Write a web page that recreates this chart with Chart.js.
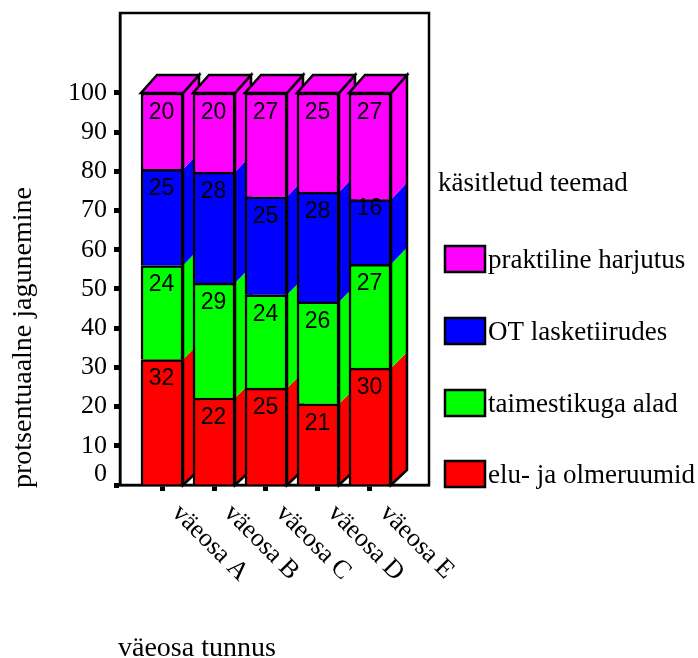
<!DOCTYPE html>
<html><head><meta charset="utf-8">
<style>html,body{margin:0;padding:0;background:#fff}#w{width:698px;height:658px;position:relative}</style>
<script src="https://cdn.jsdelivr.net/npm/chart.js@4"></script></head>
<body><div id="w"><canvas id="c" width="698" height="658"></canvas></div>
<script>
const categories = ['väeosa A','väeosa B','väeosa C','väeosa D','väeosa E'];
const eluRuumid   = [32, 22.2, 24.7, 20.7, 29.8];
const taimestik   = [24, 29.3, 23.8, 26, 26.5];
const lasketiirud = [24.5, 28.3, 25, 28, 16.49];
const praktiline  = [19.5, 20.2, 26.5, 25.3, 27.21];
const seriesNames = ['elu- ja olmeruumid','taimestikuga alad','OT lasketiirudes','praktiline harjutus'];
const seriesColors = ['#ff0000','#00ff00','#0000ff','#ff00ff'];
const yTicks = [0,10,20,30,40,50,60,70,80,90,100];
const yTitle = 'protsentuaalne jagunemine';
const xTitle = 'väeosa tunnus';
const legendTitle = 'käsitletud teemad';

const SERIF = '"Liberation Serif"', SANS = '"Liberation Sans"';
const allSeries = [eluRuumid, taimestik, lasketiirud, praktiline];
const DX = 16;
const LW = 2.5;
const dyAt = v => 15 + 3*v/100;

const path = (ctx, pts) => {
  ctx.beginPath(); pts.forEach((p,i)=> i?ctx.lineTo(p[0],p[1]):ctx.moveTo(p[0],p[1])); ctx.closePath();
};

const deco = {
  id: 'deco',
  beforeDatasetsDraw(chart) {
    const {ctx, chartArea:a, scales:{x,y}} = chart;
    ctx.save();
    ctx.strokeStyle = '#000'; ctx.lineWidth = 2.5; ctx.lineJoin='miter';
    ctx.strokeRect(a.left, a.top, a.right-a.left, a.bottom-a.top);
    ctx.lineWidth = LW;
    const half = chart.getDatasetMeta(0).data[0].width/2;
    categories.forEach((_, i) => {
      const l = x.getPixelForValue(i)-half, r = x.getPixelForValue(i)+half;
      let base = 0;
      allSeries.forEach((s, k) => {
        const t = base + s[i];
        const y0 = y.getPixelForValue(base), y1 = y.getPixelForValue(t);
        path(ctx, [[r,y0],[r+DX,y0-dyAt(base)],[r+DX,y1-dyAt(t)],[r,y1]]);
        ctx.fillStyle = seriesColors[k]; ctx.fill();
        base = t;
      });
      const y0 = y.getPixelForValue(0), yt = y.getPixelForValue(base), d = dyAt(base);
      path(ctx, [[r,y0],[r+DX,y0-dyAt(0)],[r+DX,yt-d],[r,yt]]);
      ctx.stroke();
      path(ctx, [[l,yt],[r,yt],[r+DX,yt-d],[l+DX,yt-d]]);
      ctx.fillStyle = seriesColors[3]; ctx.fill(); ctx.stroke();
    });
    ctx.restore();
  },
  afterDatasetsDraw(chart) {
    const {ctx, scales:{x,y}} = chart;
    ctx.save();
    ctx.fillStyle = '#000'; ctx.textAlign='center'; ctx.textBaseline='middle';
    ctx.font = `23px ${SANS}`;
    categories.forEach((_, i) => {
      let base = 0;
      allSeries.forEach((s) => {
        const t = base + s[i], shown = Math.round(s[i]);
        const off = shown === 16 ? 9 : 19.5;
        ctx.fillText(String(shown), x.getPixelForValue(i)-0.5, y.getPixelForValue(t)+off);
        base = t;
      });
    });
    ctx.restore();
  },
  afterDraw(chart) {
    const {ctx, scales:{x}} = chart;
    ctx.save();
    ctx.fillStyle = '#000'; ctx.textBaseline='alphabetic'; ctx.textAlign='left';
    ctx.font = `26px ${SERIF}`;
    categories.forEach((c,i) => {
      ctx.save();
      ctx.translate(x.getPixelForValue(i)+9, 514);
      ctx.rotate(Math.PI/4);
      ctx.fillText(c, 0, 0);
      ctx.restore();
    });
    ctx.font = `28px ${SERIF}`;
    ctx.fillText(xTitle, 118, 656);
    ctx.save(); ctx.translate(31, 488); ctx.rotate(-Math.PI/2); ctx.fillText(yTitle, 0, 0); ctx.restore();
    ctx.font = `27px ${SERIF}`;
    ctx.fillText(legendTitle, 438, 191);
    [[246,3],[318,2],[390,1],[461,0]].forEach(([top,k]) => {
      ctx.fillStyle = seriesColors[k]; ctx.fillRect(445,top,40,26);
      ctx.strokeStyle='#000'; ctx.lineWidth=LW; ctx.strokeRect(445,top,40,26);
      ctx.fillStyle='#000'; ctx.fillText(seriesNames[k], 488, top+22);
    });
    ctx.restore();
  }
};

new Chart(document.getElementById('c'), {
  type: 'bar',
  data: {
    datasets: allSeries.map((s,k)=>({
      label: seriesNames[k],
      data: s.map((v,i)=>({x:i,y:v})),
      backgroundColor: seriesColors[k],
      borderColor: '#000',
      borderWidth: LW,
      barThickness: 42
    }))
  },
  options: {
    responsive:false, animation:false,
    layout:{padding:{left:0,top:13,right:269,bottom:0}},
    plugins:{legend:{display:false},tooltip:{enabled:false}},
    scales:{
      x:{
        type:'linear', stacked:true, min:-0.808, max:5.135, offset:false,
        afterBuildTicks(s){ s.ticks = categories.map((_,i)=>({value:i})); },
        afterFit(s){ s.height = 173; s.paddingLeft = 0; s.paddingRight = 0; },
        ticks:{display:false},
        grid:{offset:false,drawOnChartArea:false,drawTicks:true,tickLength:6,tickWidth:5,tickColor:'#000'},
        border:{color:'#000',width:2.5}
      },
      y:{
        stacked:true, min:0, max:120.4,
        afterBuildTicks(s){ s.ticks = yTicks.map(v=>({value:v})); },
        afterFit(s){ s.width = 120; s.paddingTop = 0; s.paddingBottom = 0; },
        ticks:{autoSkip:false,padding:7,color:'#000',font:{family:SERIF,size:26,lineHeight:0.85},
          callback:v=> v===0 ? ['0',''] : String(v)},
        grid:{drawOnChartArea:false,drawTicks:true,tickLength:6,tickWidth:5,tickColor:'#000'},
        border:{color:'#000',width:2.5}
      }
    }
  },
  plugins:[deco]
});
</script></body></html>
